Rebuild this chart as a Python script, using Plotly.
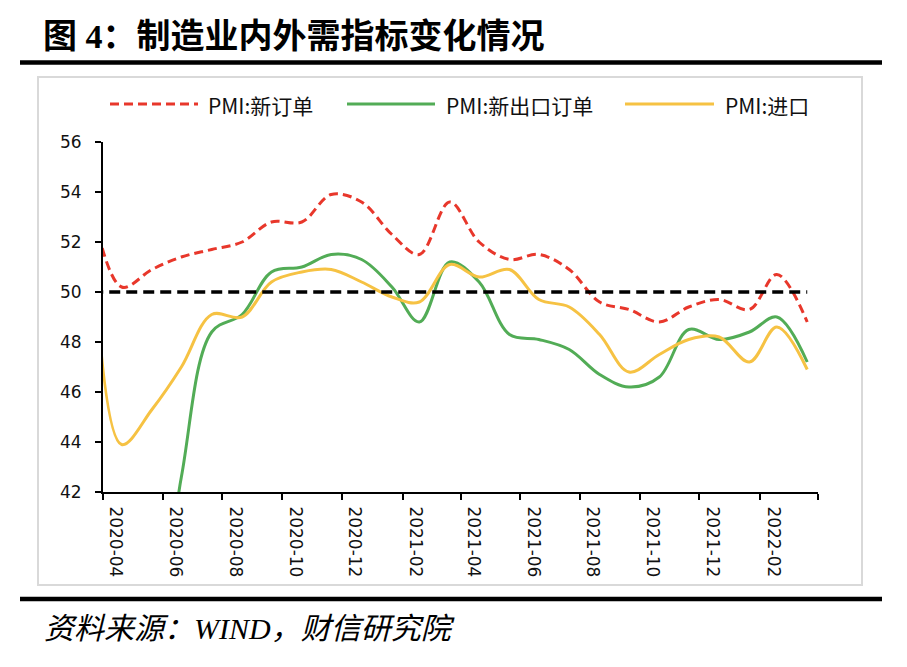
import pandas as pd
import plotly.graph_objects as go

# ---------------- data ----------------
months = ["2020-03", "2020-04", "2020-05", "2020-06", "2020-07", "2020-08", "2020-09",
          "2020-10", "2020-11", "2020-12", "2021-01", "2021-02", "2021-03", "2021-04",
          "2021-05", "2021-06", "2021-07", "2021-08", "2021-09", "2021-10", "2021-11",
          "2021-12", "2022-01", "2022-02", "2022-03"]
# first month lies left of the visible axis; its values are estimated from the clipped line start
pmi_new_orders = [53.4, 50.2, 50.9, 51.4, 51.7, 52.0, 52.8, 52.8, 53.9, 53.6, 52.3, 51.5,
                  53.6, 52.0, 51.3, 51.5, 50.9, 49.6, 49.3, 48.8, 49.4, 49.7, 49.3, 50.7, 48.8]
pmi_new_export_orders = [46.4, 33.5, 35.3, 42.6, 48.4, 49.1, 50.8, 51.0, 51.5, 51.3, 50.2, 48.8,
                         51.2, 50.4, 48.3, 48.1, 47.7, 46.7, 46.2, 46.6, 48.5, 48.1, 48.4, 49.0, 47.2]
pmi_imports = [52.8, 43.9, 45.3, 47.0, 49.1, 49.0, 50.4, 50.8, 50.9, 50.4, 49.8, 49.6,
               51.1, 50.6, 50.9, 49.7, 49.4, 48.3, 46.8, 47.5, 48.1, 48.2, 47.2, 48.6, 46.9]
threshold = 50
series_names = ["PMI:新订单", "PMI:新出口订单", "PMI:进口"]
tick_labels = ["2020-04", "2020-06", "2020-08", "2020-10", "2020-12", "2021-02", "2021-04",
               "2021-06", "2021-08", "2021-10", "2021-12", "2022-02", ""]
y_ticks = [42, 44, 46, 48, 50, 52, 54, 56]

title_text = "图 4：制造业内外需指标变化情况"
source_text = "资料来源：WIND，财信研究院"

# ---------------- styling ----------------
RED = "#E8372B"
GREEN = "#52AC56"
YELLOW = "#F6C243"

dates = (pd.to_datetime(months) + pd.offsets.MonthEnd(0)).strftime("%Y-%m-%d").tolist()
axis_start = pd.Timestamp("2020-04-11")
tick_dates = [(axis_start + pd.DateOffset(months=2 * i)).strftime("%Y-%m-%d")
              for i in range(len(tick_labels))]

fig = go.Figure()
styles = [
    dict(color=RED, width=3, dash="9px,5px"),
    dict(color=GREEN, width=3),
    dict(color=YELLOW, width=3),
]
for name, vals, st in zip(series_names, [pmi_new_orders, pmi_new_export_orders, pmi_imports], styles):
    fig.add_trace(go.Scatter(x=dates, y=vals, name=name, mode="lines",
                             line=dict(shape="spline", smoothing=1, **st),
                             showlegend=False, hoverinfo="skip"))

fig.add_trace(go.Scatter(x=[dates[0], dates[-1]], y=[threshold, threshold], mode="lines",
                         line=dict(color="#000000", width=3.5, dash="11px,6px"),
                         showlegend=False, hoverinfo="skip"))

# page offset (body margin) compensation
OFF = 8
FW, FH = 907 - OFF, 667 - OFF
# plot area in reference pixels: x 103..818, y 142..492
L, R, T, B = 103 - OFF, 818 - OFF, 142 - OFF, 492 - OFF
W, H = R - L, B - T


def px(x):
    return (x - OFF - L) / W


def py(y):
    return (B - (y - OFF)) / H


shapes = [
    # light grey chart frame
    dict(type="rect", xref="paper", yref="paper", x0=px(38), x1=px(862), y0=py(585), y1=py(77),
         line=dict(color="#D9D9D9", width=2), fillcolor="rgba(0,0,0,0)", layer="below"),
    # thick black rules
    dict(type="line", xref="paper", yref="paper", x0=px(20), x1=px(882), y0=py(62.5), y1=py(62.5),
         line=dict(color="#000000", width=4.5)),
    dict(type="line", xref="paper", yref="paper", x0=px(20), x1=px(882), y0=py(599), y1=py(599),
         line=dict(color="#000000", width=4.5)),
]

annotations = [
    dict(text="<b>" + title_text + "</b>", xref="paper", yref="paper", x=px(41), y=py(37),
         xanchor="left", yanchor="middle", showarrow=False,
         font=dict(family="Liberation Serif, Noto Sans CJK SC", size=34, color="#000000")),
    dict(text=source_text, xref="paper", yref="paper", x=px(42), y=py(628),
         xanchor="left", yanchor="middle", showarrow=False,
         font=dict(family="Liberation Serif, Noto Sans CJK SC", size=30, color="#000000",
                   style="italic")),
]

# legend (drawn manually to match the long line samples)
legend_y = py(104)
legend_items = [
    (110, 198, 206, styles[0]),
    (347, 435, 444, styles[1]),
    (625, 714, 723, styles[2]),
]
for name, (x0, x1, xt, st) in zip(series_names, legend_items):
    shapes.append(dict(type="line", xref="paper", yref="paper", x0=px(x0), x1=px(x1),
                       y0=legend_y, y1=legend_y,
                       line=dict(color=st["color"], width=st["width"], dash=st.get("dash", "solid"))))
    annotations.append(dict(text=name, xref="paper", yref="paper", x=px(xt), y=py(105),
                            xanchor="left", yanchor="middle", showarrow=False,
                            font=dict(family="Noto Sans CJK SC", size=21, color="#111111")))

fig.update_layout(
    width=FW, height=FH,
    margin=dict(l=L, r=FW - R, t=T, b=FH - B),
    paper_bgcolor="white", plot_bgcolor="white",
    showlegend=False,
    shapes=shapes, annotations=annotations,
    xaxis=dict(type="date", range=[tick_dates[0], tick_dates[-1]],
               tickvals=tick_dates, ticktext=tick_labels, tickangle=90,
               ticks="outside", ticklen=6, tickwidth=2, tickcolor="#000000",
               showline=True, linecolor="#000000", linewidth=2, showgrid=False, zeroline=False,
               tickfont=dict(family="DejaVu Sans", size=17, color="#111111"),
               ticklabelshift=13, ticklabelstandoff=3, fixedrange=True),
    yaxis=dict(range=[42, 56], tickvals=y_ticks,
               ticks="outside", ticklen=6, tickwidth=2, tickcolor="#000000",
               showline=True, linecolor="#000000", linewidth=2, showgrid=False, zeroline=False,
               tickfont=dict(family="DejaVu Sans", size=17, color="#111111"),
               ticklabelstandoff=10, fixedrange=True),
)

fig.write_html("out.html")
